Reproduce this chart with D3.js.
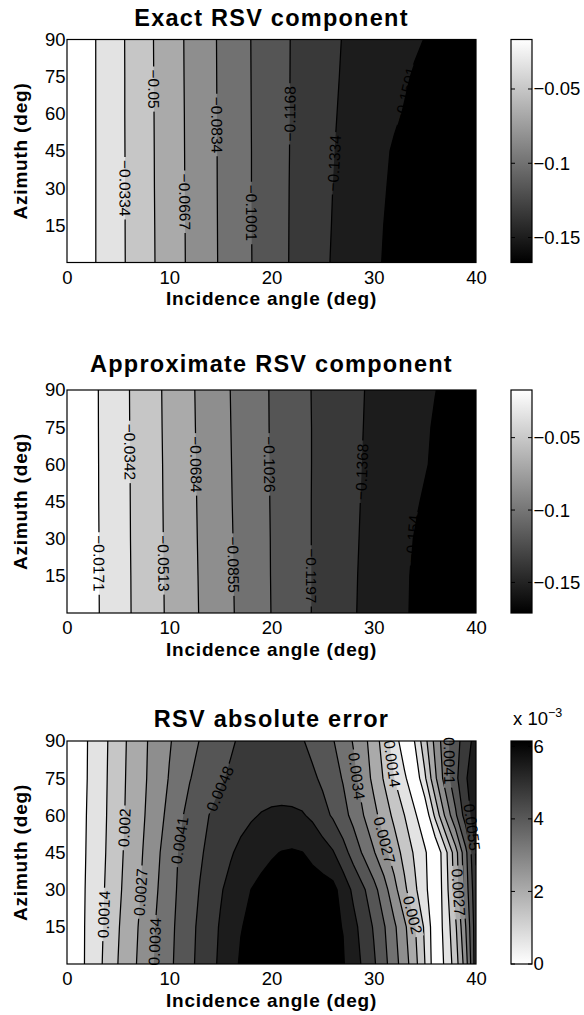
<!DOCTYPE html>
<html>
<head>
<meta charset="utf-8">
<script src="https://cdn.jsdelivr.net/npm/d3@7/dist/d3.min.js"></script>
<style>
  body { margin: 0; background: #fff; }
  svg { display: block; font-family: "Liberation Sans", Arial, Helvetica, sans-serif; }
</style>
</head>
<body>
<svg class="rsv" width="584" height="1015"></svg>
<script>
// grid the fields were sampled on (deg)
var incidence2 = [0, 2, 4, 6, 8, 10, 12, 14, 16, 18, 20, 22, 24, 26, 28, 30, 32, 34, 36, 38, 40];
var incidence1 = [0, 1, 2, 3, 4, 5, 6, 7, 8, 9, 10, 11, 12, 13, 14, 15, 16, 17, 18, 19, 20,
                  21, 22, 23, 24, 25, 26, 27, 28, 29, 30, 31, 32, 33, 34, 35, 36, 37, 38, 39, 40];
var azimuth = [0, 15, 30, 45, 60, 75, 90];

var xTicks = [0, 10, 20, 30, 40];
var yTicks = [15, 30, 45, 60, 75, 90];

// exact RSV component, one row per azimuth (0 at the top of the list), columns = incidence2
var exactValues = [
  [0, -0.0119, -0.0236, -0.0351, -0.0466, -0.0580, -0.0691, -0.0797, -0.0898, -0.0997, -0.1091, -0.1182, -0.1265, -0.1346, -0.1413, -0.1483, -0.1530, -0.1575, -0.1614, -0.1645, -0.1668],
  [0, -0.0119, -0.0236, -0.0352, -0.0467, -0.0582, -0.0692, -0.0798, -0.0899, -0.0998, -0.1091, -0.1181, -0.1261, -0.1340, -0.1406, -0.1472, -0.1532, -0.1575, -0.1612, -0.1642, -0.1665],
  [0, -0.0119, -0.0236, -0.0352, -0.0469, -0.0583, -0.0694, -0.0799, -0.0900, -0.0999, -0.1090, -0.1180, -0.1258, -0.1335, -0.1399, -0.1463, -0.1523, -0.1568, -0.1605, -0.1633, -0.1655],
  [0, -0.0119, -0.0236, -0.0353, -0.0470, -0.0584, -0.0695, -0.0800, -0.0900, -0.0999, -0.1090, -0.1178, -0.1254, -0.1329, -0.1391, -0.1452, -0.1514, -0.1558, -0.1594, -0.1621, -0.1640],
  [0, -0.0119, -0.0237, -0.0354, -0.0471, -0.0586, -0.0696, -0.0801, -0.0901, -0.1000, -0.1090, -0.1177, -0.1250, -0.1323, -0.1379, -0.1432, -0.1484, -0.1535, -0.1572, -0.1600, -0.1620],
  [0, -0.0119, -0.0237, -0.0354, -0.0473, -0.0587, -0.0698, -0.0802, -0.0902, -0.1001, -0.1089, -0.1176, -0.1247, -0.1318, -0.1370, -0.1417, -0.1465, -0.1513, -0.1552, -0.1583, -0.1605],
  [0, -0.0119, -0.0237, -0.0355, -0.0474, -0.0589, -0.0699, -0.0803, -0.0903, -0.1002, -0.1089, -0.1175, -0.1243, -0.1312, -0.1366, -0.1405, -0.1443, -0.1484, -0.1524, -0.1558, -0.1585]
];
var exactLevels = [-0.15012, -0.13344, -0.11676, -0.10008, -0.0834, -0.06672, -0.05004, -0.03336, -0.01668];
// [level index, incidence, azimuth] roughly where each clabel sits
var exactLabels = [[7, 5.7, 30], [6, 8.5, 70], [5, 11.5, 24.5], [4, 14.6, 55.5],
                   [3, 18, 20], [2, 21.7, 60], [1, 26.2, 40], [0, 33.2, 67.6]];

// approximate RSV component
var approxValues = [
  [0, -0.0108, -0.0217, -0.0328, -0.0434, -0.0539, -0.0641, -0.0740, -0.0838, -0.0934, -0.1029, -0.1116, -0.1202, -0.1280, -0.1357, -0.1425, -0.1492, -0.1558, -0.1620, -0.1672, -0.1711],
  [0, -0.0109, -0.0218, -0.0329, -0.0436, -0.0541, -0.0644, -0.0743, -0.0841, -0.0937, -0.1031, -0.1117, -0.1202, -0.1278, -0.1354, -0.1422, -0.1490, -0.1555, -0.1615, -0.1666, -0.1705],
  [0, -0.0109, -0.0219, -0.0331, -0.0438, -0.0544, -0.0647, -0.0747, -0.0844, -0.0939, -0.1032, -0.1117, -0.1202, -0.1276, -0.1350, -0.1416, -0.1481, -0.1546, -0.1605, -0.1653, -0.1690],
  [0, -0.0110, -0.0221, -0.0332, -0.0440, -0.0546, -0.0650, -0.0750, -0.0848, -0.0942, -0.1034, -0.1118, -0.1202, -0.1275, -0.1347, -0.1409, -0.1467, -0.1525, -0.1580, -0.1630, -0.1672],
  [0, -0.0110, -0.0222, -0.0333, -0.0441, -0.0548, -0.0653, -0.0753, -0.0851, -0.0944, -0.1035, -0.1119, -0.1201, -0.1273, -0.1344, -0.1402, -0.1453, -0.1505, -0.1557, -0.1610, -0.1655],
  [0, -0.0111, -0.0223, -0.0335, -0.0443, -0.0551, -0.0656, -0.0757, -0.0854, -0.0947, -0.1037, -0.1119, -0.1201, -0.1271, -0.1340, -0.1398, -0.1448, -0.1499, -0.1550, -0.1597, -0.1640],
  [0, -0.0111, -0.0224, -0.0336, -0.0445, -0.0553, -0.0659, -0.0760, -0.0857, -0.0949, -0.1038, -0.1120, -0.1203, -0.1269, -0.1337, -0.1394, -0.1441, -0.1489, -0.1537, -0.1580, -0.1618]
];
var approxLevels = [-0.15396, -0.13684, -0.11974, -0.10264, -0.08553, -0.06842, -0.05132, -0.03421, -0.01711];
var approxLabels = [[8, 3.1, 20], [7, 6.2, 65], [6, 9.4, 20], [5, 12.6, 60], [4, 16.2, 19.5],
                    [3, 19.8, 60], [2, 23.9, 15], [1, 28.7, 57], [0, 33.7, 30]];

// absolute error, in units of 1e-3, columns = incidence1
var errorValues = [
  [0, 0.40, 0.80, 1.18, 1.60, 2.06, 2.43, 2.81, 3.23, 3.61, 3.96, 4.30, 4.63, 4.95, 5.26, 5.58, 5.92, 6.22, 6.36, 6.47, 6.55,
   6.59, 6.60, 6.57, 6.50, 6.40, 6.30, 6.20, 5.78, 5.35, 4.88, 4.31, 3.69, 3.05, 2.30, 1.37, 0.26, 0.77, 1.71, 3.10, 5.20],
  [0, 0.40, 0.79, 1.15, 1.55, 2.00, 2.38, 2.75, 3.17, 3.56, 3.92, 4.26, 4.59, 4.91, 5.22, 5.52, 5.82, 6.12, 6.27, 6.39, 6.47,
   6.52, 6.53, 6.50, 6.43, 6.34, 6.24, 6.13, 5.66, 5.20, 4.72, 4.16, 3.54, 2.87, 2.12, 1.25, 0.22, 0.88, 1.94, 3.42, 5.20],
  [0, 0.39, 0.77, 1.12, 1.49, 1.92, 2.30, 2.65, 3.05, 3.46, 3.85, 4.20, 4.51, 4.81, 5.11, 5.40, 5.66, 5.90, 6.15, 6.30, 6.40,
   6.46, 6.48, 6.48, 6.46, 6.42, 6.35, 5.86, 5.33, 4.87, 4.33, 3.69, 2.96, 2.20, 1.50, 0.87, 0.10, 1.02, 2.32, 3.76, 5.30],
  [0, 0.38, 0.74, 1.09, 1.44, 1.86, 2.24, 2.58, 2.96, 3.37, 3.78, 4.15, 4.43, 4.70, 4.94, 5.17, 5.40, 5.62, 5.80, 5.95, 6.08,
   6.17, 6.21, 6.16, 5.99, 5.78, 5.52, 5.04, 4.52, 3.99, 3.47, 2.94, 2.39, 1.82, 1.27, 0.78, 0.08, 1.14, 2.46, 3.93, 5.55],
  [0, 0.36, 0.72, 1.06, 1.41, 1.81, 2.18, 2.52, 2.86, 3.23, 3.60, 3.98, 4.29, 4.56, 4.81, 4.96, 5.10, 5.25, 5.39, 5.50, 5.56,
   5.58, 5.57, 5.52, 5.35, 5.01, 4.70, 4.33, 3.90, 3.42, 2.93, 2.42, 1.89, 1.37, 0.80, 0.15, 1.50, 2.85, 3.98, 5.12, 5.85],
  [0, 0.35, 0.69, 1.04, 1.39, 1.78, 2.15, 2.47, 2.80, 3.12, 3.45, 3.76, 4.07, 4.29, 4.50, 4.72, 4.86, 4.96, 5.04, 5.10, 5.14,
   5.15, 5.12, 5.04, 4.90, 4.66, 4.37, 4.05, 3.60, 3.10, 2.56, 1.99, 1.37, 0.80, 0.15, 1.25, 2.60, 3.71, 4.61, 5.39, 6.00],
  [0, 0.34, 0.68, 1.02, 1.37, 1.76, 2.12, 2.45, 2.77, 3.06, 3.36, 3.62, 3.88, 4.12, 4.32, 4.51, 4.71, 4.86, 4.95, 5.01, 5.04,
   5.04, 4.98, 4.83, 4.60, 4.37, 4.14, 3.78, 3.37, 2.93, 2.41, 1.75, 1.01, 0.28, 0.70, 1.82, 2.93, 3.84, 4.53, 5.12, 5.75]
];
var errorLevels = [0.683, 1.366, 2.049, 2.732, 3.415, 4.098, 4.781, 5.464, 6.147];
var errorLabels = [[1, 3.6, 20], [2, 5.5, 55], [3, 7.2, 29], [4, 8.5, 9], [5, 10.8, 50], [6, 14.8, 71],
                   [4, 28.6, 76], [1, 32.2, 81], [3, 32.0, 51], [2, 34.0, 20],
                   [5, 37.8, 82], [7, 39.2, 55], [3, 38.6, 29]];

var rsvTicks = [-0.15, -0.1, -0.05];
var errTicks = [0, 2, 4, 6];

var svg = d3.select('svg.rsv');
var defs = svg.append('defs');

var left = 67, right = 476, plotH = 223;
var cbX = 511, cbW = 21;

var panels = [
  { title: 'Exact RSV component', top: 39.5, titleY: 25.7, xs: incidence2, values: exactValues,
    levels: exactLevels, labels: exactLabels, unit: 1, reverse: false, cbTicks: rsvTicks },
  { title: 'Approximate RSV component', top: 390, titleY: 371.5, xs: incidence2, values: approxValues,
    levels: approxLevels, labels: approxLabels, unit: 1, reverse: false, cbTicks: rsvTicks },
  { title: 'RSV absolute error', top: 741, titleY: 726.5, xs: incidence1, values: errorValues,
    levels: errorLevels, labels: errorLabels, unit: 1e-3, reverse: true, cbTicks: errTicks, exponent: true }
];

function minusSign(s) { return s.replace('-', '\u2212'); }

panels.forEach(function(p, pi) {
  var bottom = p.top + plotH;
  var x = d3.scaleLinear().domain([0, 40]).range([left, right]);
  var y = d3.scaleLinear().domain([0, 90]).range([bottom, p.top]);

  var flat = d3.merge(p.values);
  var nx = p.xs.length, ny = azimuth.length;
  var cmin = d3.min(flat), cmax = d3.max(p.levels);
  var color = d3.scaleLinear()
    .domain([cmin, cmax])
    .range(p.reverse ? ['#ffffff', '#000000'] : ['#000000', '#ffffff'])
    .clamp(true);

  var contours = d3.contours()
    .size([nx, ny])
    .thresholds(p.levels)(flat);

  // contour grid units -> pixels (sample i sits at i + 0.5)
  var stepX = p.xs[1] - p.xs[0], stepY = azimuth[1] - azimuth[0];
  function toPx(pt) {
    return [x(p.xs[0] + (pt[0] - 0.5) * stepX), y(azimuth[0] + (pt[1] - 0.5) * stepY)];
  }
  var path = d3.geoPath(d3.geoTransform({
    point: function(a, b) {
      var q = toPx([a, b]);
      this.stream.point(q[0], q[1]);
    }
  }));

  defs.append('clipPath').attr('id', 'clip' + pi)
    .append('rect')
      .attr('x', left).attr('y', p.top)
      .attr('width', right - left).attr('height', plotH);

  var mask = defs.append('mask').attr('id', 'gap' + pi)
    .attr('maskUnits', 'userSpaceOnUse')
    .attr('x', 0).attr('y', 0).attr('width', 584).attr('height', 1015);
  mask.append('rect')
    .attr('width', 584).attr('height', 1015).attr('fill', 'white');

  var plot = svg.append('g').attr('clip-path', 'url(#clip' + pi + ')');

  // everything below the lowest level
  plot.append('rect')
    .attr('x', left).attr('y', p.top)
    .attr('width', right - left).attr('height', plotH)
    .attr('fill', color(cmin));

  plot.selectAll('path.band')
    .data(contours)
    .enter()
      .append('path')
        .attr('class', 'band')
        .attr('d', path)
        .attr('fill', function(d) { return color(d.value); });

  plot.append('g')
    .attr('mask', 'url(#gap' + pi + ')')
    .selectAll('path')
    .data(contours)
    .enter()
      .append('path')
        .attr('d', path)
        .attr('fill', 'none')
        .attr('stroke', '#000')
        .attr('stroke-width', 1.25);

  // inline contour labels, snapped onto their line
  var labelG = svg.append('g');
  p.labels.forEach(function(l) {
    var c = contours[l[0]];
    var tx = x(l[1]), ty = y(l[2]);
    var best = null;
    c.coordinates.forEach(function(poly) {
      poly.forEach(function(ring) {
        for (var i = 1; i < ring.length; i++) {
          var a = toPx(ring[i - 1]), b = toPx(ring[i]);
          var mx = (a[0] + b[0]) / 2, my = (a[1] + b[1]) / 2;
          if (mx < left - 0.5 || mx > right + 0.5 || my < p.top - 0.5 || my > bottom + 0.5) continue;
          var vx = b[0] - a[0], vy = b[1] - a[1], len2 = vx * vx + vy * vy;
          var t = len2 ? ((tx - a[0]) * vx + (ty - a[1]) * vy) / len2 : 0;
          t = Math.max(0, Math.min(1, t));
          var qx = a[0] + t * vx, qy = a[1] + t * vy;
          var dd = (qx - tx) * (qx - tx) + (qy - ty) * (qy - ty);
          if (!best || dd < best.d) best = { d: dd, x: qx, y: qy, ang: Math.atan2(vy, vx) * 180 / Math.PI };
        }
      });
    });
    if (!best) return;
    var ang = best.ang;
    if (ang > 90) ang -= 180;
    if (ang <= -90) ang += 180;
    var tr = 'translate(' + best.x + ',' + best.y + ') rotate(' + ang + ')';
    var txt = labelG.append('text')
      .attr('transform', tr)
      .attr('text-anchor', 'middle')
      .attr('dy', '0.36em')
      .attr('font-size', 15.5)
      .attr('fill', '#000')
      .text(minusSign(String(+(p.levels[l[0]] * p.unit).toFixed(4))));
    var w = txt.node().getComputedTextLength();
    mask.append('rect')
      .attr('transform', tr)
      .attr('x', -w / 2 - 3).attr('y', -6)
      .attr('width', w + 6).attr('height', 12)
      .attr('fill', 'black');
  });

  svg.append('rect')
    .attr('x', left).attr('y', p.top)
    .attr('width', right - left).attr('height', plotH)
    .attr('fill', 'none')
    .attr('stroke', '#000')
    .attr('stroke-width', 1.2);

  var xAxis = svg.append('g')
    .attr('transform', 'translate(0,' + bottom + ')')
    .call(d3.axisBottom(x).tickValues(xTicks).tickSize(0).tickPadding(8));
  var yAxis = svg.append('g')
    .attr('transform', 'translate(' + left + ',0)')
    .call(d3.axisLeft(y).tickValues(yTicks).tickSize(0).tickPadding(1.5));
  [xAxis, yAxis].forEach(function(g) {
    g.select('.domain').remove();
    g.attr('font-size', 18.5).attr('font-family', null);
    g.selectAll('text').attr('fill', '#000');
  });

  svg.append('text')
    .attr('x', (left + right) / 2).attr('y', p.titleY)
    .attr('text-anchor', 'middle')
    .attr('font-size', 23.5).attr('font-weight', 'bold')
    .attr('letter-spacing', 1.25)
    .text(p.title);

  svg.append('text')
    .attr('x', (left + right) / 2).attr('y', bottom + 42.5)
    .attr('text-anchor', 'middle')
    .attr('font-size', 19).attr('font-weight', 'bold')
    .attr('letter-spacing', 0.8)
    .text('Incidence angle (deg)');

  svg.append('text')
    .attr('transform', 'translate(27,' + (p.top + plotH / 2) + ') rotate(-90)')
    .attr('text-anchor', 'middle')
    .attr('font-size', 19).attr('font-weight', 'bold')
    .attr('letter-spacing', 0.8)
    .text('Azimuth (deg)');

  // colorbar
  var grad = defs.append('linearGradient').attr('id', 'cb' + pi)
    .attr('x1', 0).attr('y1', 1).attr('x2', 0).attr('y2', 0);
  grad.append('stop').attr('offset', 0).attr('stop-color', color(cmin));
  grad.append('stop').attr('offset', 1).attr('stop-color', color(cmax));

  var cy = d3.scaleLinear().domain([cmin, cmax]).range([bottom, p.top]);
  var cb = svg.append('g');
  cb.append('rect')
    .attr('x', cbX).attr('y', p.top)
    .attr('width', cbW).attr('height', plotH)
    .attr('fill', 'url(#cb' + pi + ')')
    .attr('stroke', '#000')
    .attr('stroke-width', 1.2);
  cb.selectAll('line.l')
    .data(p.cbTicks)
    .enter()
      .append('line')
        .attr('x1', cbX).attr('x2', cbX + 4)
        .attr('y1', function(d) { return cy(d); })
        .attr('y2', function(d) { return cy(d); })
        .attr('stroke', '#000');
  cb.selectAll('line.r')
    .data(p.cbTicks)
    .enter()
      .append('line')
        .attr('x1', cbX + cbW - 4).attr('x2', cbX + cbW)
        .attr('y1', function(d) { return cy(d); })
        .attr('y2', function(d) { return cy(d); })
        .attr('stroke', '#000');
  cb.selectAll('text')
    .data(p.cbTicks)
    .enter()
      .append('text')
        .attr('x', cbX + cbW + 1.5)
        .attr('y', function(d) { return cy(d); })
        .attr('dy', '0.35em')
        .attr('font-size', 18.5)
        .text(function(d) { return minusSign(String(d)); });

  if (p.exponent) {
    var ex = svg.append('text')
      .attr('x', 513).attr('y', p.top - 16)
      .attr('font-size', 18.5)
      .text('x 10');
    ex.append('tspan')
      .attr('dy', -8)
      .attr('font-size', 12.5)
      .text('\u22123');
  }
});
</script>
</body>
</html>
